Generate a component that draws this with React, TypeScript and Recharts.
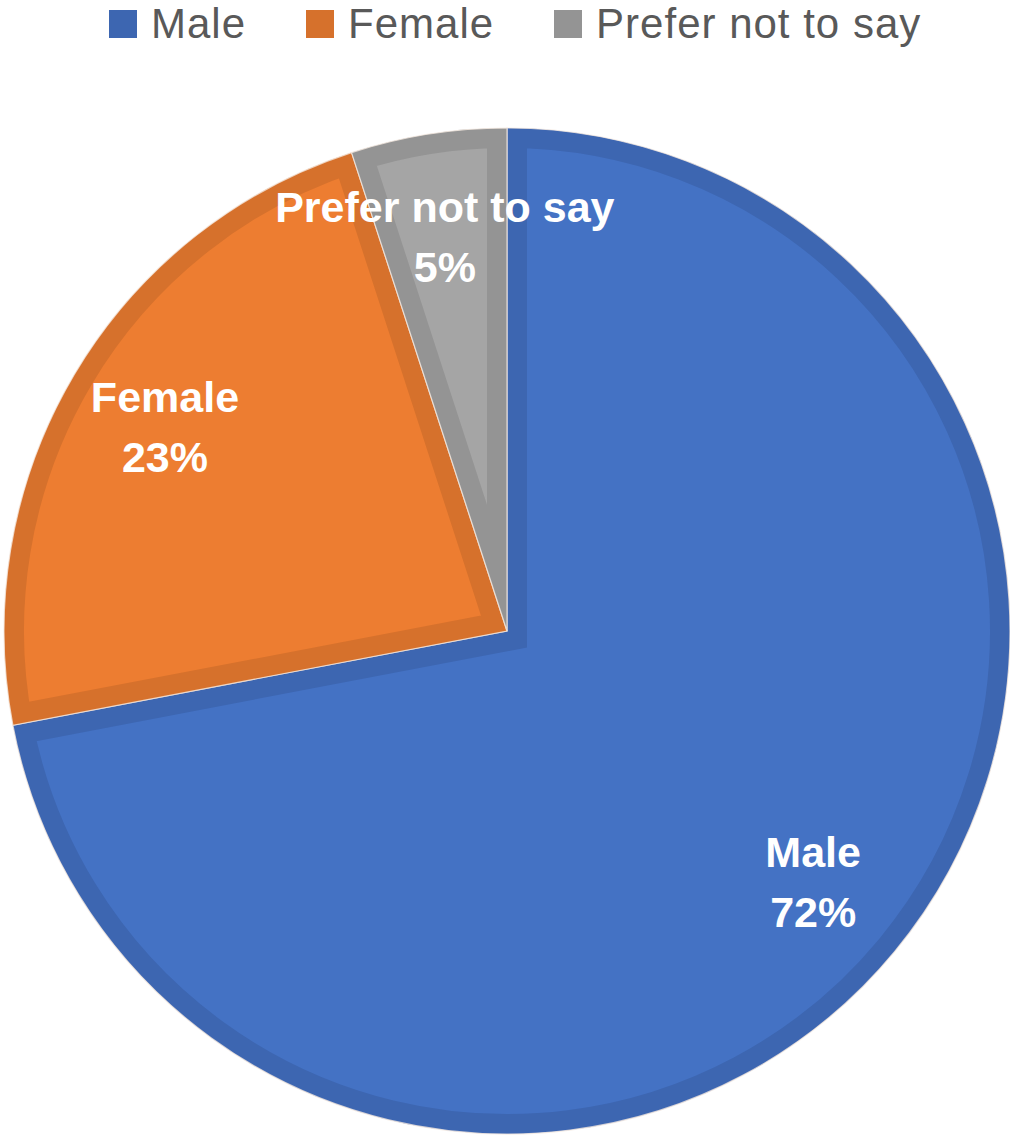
import { PieChart, Pie, Cell, Legend, Sector } from "recharts";

type slice = { name: string; value: number };

const categories: string[] = ["Male", "Female", "Prefer not to say"];
const shares: number[] = [72, 23, 5];

const data: slice[] = categories.map((name, i) => ({ name, value: shares[i] }));

const FILL: Record<string, string> = {
  "Male": "#4472C4",
  "Female": "#ED7D31",
  "Prefer not to say": "#A5A5A5",
};
const EDGE: Record<string, string> = {
  "Male": "#3D66B1",
  "Female": "#D6712C",
  "Prefer not to say": "#949494",
};

const FONT = "'Liberation Sans', Arial, sans-serif";

// sector with a darker band on the inside of its edge, like the office look
const BandSector = (props: any) => {
  const { cx, cy, innerRadius, outerRadius, startAngle, endAngle } = props;
  const name: string = props.payload?.name ?? props.name;
  const id = `clip-${name.replace(/\s/g, "-")}`;
  const geo = { cx, cy, innerRadius, outerRadius, startAngle, endAngle };
  return (
    <g>
      <defs>
        <clipPath id={id}>
          <Sector {...geo} />
        </clipPath>
      </defs>
      <Sector {...geo} fill={FILL[name]} stroke={EDGE[name]} strokeWidth={40} clipPath={`url(#${id})`} />
      <Sector {...geo} fill="none" stroke="#f4e9e0" strokeOpacity={0.8} strokeWidth={1.2} />
    </g>
  );
};

const RADIAN = Math.PI / 180;

const renderLabel = (props: any) => {
  const { cx, cy, midAngle, outerRadius, percent } = props;
  const name: string = props.payload?.name ?? props.name;
  const r = outerRadius * 0.79;
  const x = cx + r * Math.cos(-midAngle * RADIAN);
  const y = cy + r * Math.sin(-midAngle * RADIAN);
  return (
    <text x={x} textAnchor="middle" fill="#ffffff" fontFamily={FONT} fontWeight="bold" fontSize={43}>
      <tspan x={x} y={y - 17}>{name}</tspan>
      <tspan x={x} y={y + 43}>{`${Math.round(percent * 100)}%`}</tspan>
    </text>
  );
};

const LegendRow = () => (
  <div style={{ display: "flex", alignItems: "flex-start", paddingLeft: 109, fontFamily: FONT }}>
    {categories.map((name) => (
      <div key={name} style={{ display: "flex", alignItems: "flex-start", marginRight: 60 }}>
        <div style={{ width: 28, height: 28, marginTop: 10, background: EDGE[name] }} />
        <span style={{ display: "inline-block", marginLeft: 14, fontSize: 42, lineHeight: "47px", letterSpacing: 1, color: "#595959", whiteSpace: "nowrap" }}>
          {name}
        </span>
      </div>
    ))}
  </div>
);

const App = () => {
  return (
    <div style={{ position: "absolute", left: 0, top: 0, width: 1010, height: 1136, background: "#ffffff" }}>
      <PieChart width={1010} height={1136} margin={{ top: 0, right: 0, bottom: 0, left: 0 }}>
        <Legend
          layout="horizontal"
          verticalAlign="middle"
          align="center"
          content={() => <LegendRow />}
          wrapperStyle={{ top: 0, left: 0, width: 1010, height: 50 }}
        />
        <Pie
          data={data}
          dataKey="value"
          nameKey="name"
          cx={507}
          cy={631}
          innerRadius={0}
          outerRadius={503}
          startAngle={90}
          endAngle={-270}
          stroke="none"
          shape={BandSector}
          label={renderLabel}
          labelLine={false}
          isAnimationActive={false}
        >
          {data.map((d) => (
            <Cell key={d.name} fill={FILL[d.name]} />
          ))}
        </Pie>
      </PieChart>
    </div>
  );
};

export default App;
